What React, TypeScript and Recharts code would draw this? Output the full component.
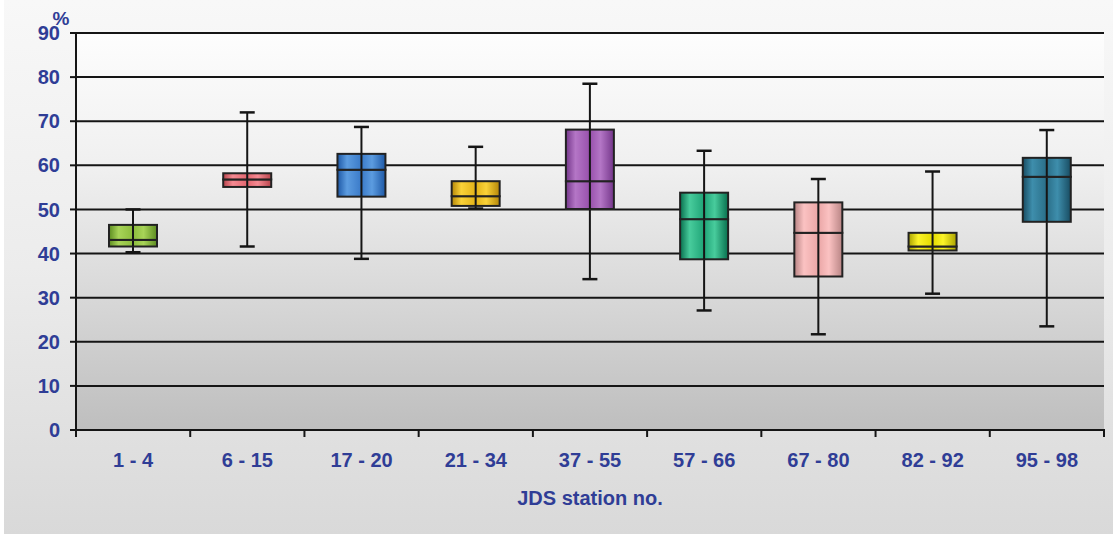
import React from 'react';
import { ComposedChart, Bar, XAxis, YAxis, CartesianGrid } from 'recharts';

const categories = ['1 - 4', '6 - 15', '17 - 20', '21 - 34', '37 - 55', '57 - 66', '67 - 80', '82 - 92', '95 - 98'];
const whiskerLow = [40.3, 41.6, 38.8, 50.2, 34.2, 27.1, 21.7, 30.9, 23.5];
const q1 = [41.6, 55.1, 52.9, 50.8, 50.1, 38.7, 34.8, 40.7, 47.2];
const median = [43.1, 56.8, 59.0, 53.0, 56.4, 47.8, 44.7, 41.6, 57.4];
const q3 = [46.5, 58.2, 62.6, 56.4, 68.1, 53.8, 51.6, 44.7, 61.7];
const whiskerHigh = [50.0, 72.0, 68.7, 64.2, 78.5, 63.3, 56.9, 58.6, 68.0];
const yTicks = [0, 10, 20, 30, 40, 50, 60, 70, 80, 90];

const boxDark = ['#5c8c20', '#b8444c', '#1d58a6', '#b48608', '#74368a', '#08704e', '#b88484', '#aaa200', '#184c62'];
const boxMid = ['#8cbc3c', '#e2666f', '#3a7ac8', '#e2b218', '#9850ac', '#1fa477', '#eaa6a6', '#e2da00', '#2a6e88'];
const boxLight = ['#a8d458', '#f58a92', '#5c9ce0', '#fad238', '#b476c6', '#48cc9c', '#fbc2c2', '#fcf428', '#3e8eac'];

const data = categories.map((name, i) => ({
  name,
  idx: i,
  base: whiskerLow[i],
  lowW: q1[i] - whiskerLow[i],
  boxLo: median[i] - q1[i],
  boxHi: q3[i] - median[i],
  highW: whiskerHigh[i] - q3[i],
}));

const INK = '#151515';
const BLUE = '#2f3d96';
const FONT = '"Liberation Sans", Arial, Helvetica, sans-serif';
const CAP = 15;
const X_TICK_SIZE = 7;
const X_TICK_MARGIN = 16;

const LowWhisker = (p: any) => {
  const cx = p.x + p.width / 2;
  const yb = p.y + p.height;
  return (
    <g>
      <line x1={cx} x2={cx} y1={p.y} y2={yb} stroke={INK} strokeWidth={2} />
      <line x1={cx - CAP / 2} x2={cx + CAP / 2} y1={yb} y2={yb} stroke={INK} strokeWidth={2.5} />
    </g>
  );
};

const HighWhisker = (p: any) => {
  const cx = p.x + p.width / 2;
  return (
    <g>
      <line x1={cx} x2={cx} y1={p.y} y2={p.y + p.height} stroke={INK} strokeWidth={2} />
      <line x1={cx - CAP / 2} x2={cx + CAP / 2} y1={p.y} y2={p.y} stroke={INK} strokeWidth={2.5} />
    </g>
  );
};

const BoxPart = (p: any) => {
  const i = p.payload ? p.payload.idx : p.index;
  const cx = p.x + p.width / 2;
  return (
    <g>
      <rect x={p.x} y={p.y} width={p.width} height={p.height} fill={`url(#boxGrad${i})`} stroke="#222" strokeWidth={2} />
      <line x1={cx} x2={cx} y1={p.y} y2={p.y + p.height} stroke={INK} strokeWidth={2} />
    </g>
  );
};

const XTick = (p: any) => {
  const half = p.payload && p.payload.offset ? p.payload.offset : p.width / p.visibleTicksCount / 2;
  const axisY = p.y - X_TICK_SIZE - X_TICK_MARGIN;
  const isLast = p.index === (p.visibleTicksCount ?? categories.length) - 1;
  return (
    <g>
      <line x1={p.x - half} x2={p.x - half} y1={axisY - 1} y2={axisY + X_TICK_SIZE} stroke={INK} strokeWidth={2} />
      {isLast && (
        <line x1={p.x + half} x2={p.x + half} y1={axisY - 1} y2={axisY + X_TICK_SIZE} stroke={INK} strokeWidth={2} />
      )}
      <text x={p.x} y={p.y} dy="0.71em" textAnchor="middle" fill={BLUE} fontSize={20} fontWeight={700} fontFamily={FONT}>
        {p.payload.value}
      </text>
    </g>
  );
};

const PercentLabel = (p: any) => {
  const vb = p.viewBox || {};
  return (
    <text x={vb.x + vb.width - 15} y={vb.y - 8} textAnchor="middle" fill={BLUE} fontSize={19} fontWeight={700} fontFamily={FONT}>
      %
    </text>
  );
};

const TitleLabel = (p: any) => {
  const vb = p.viewBox || {};
  return (
    <text x={vb.x + vb.width / 2} y={vb.y + vb.height - 29} textAnchor="middle" fill={BLUE} fontSize={20} fontWeight={700} fontFamily={FONT}>
      JDS station no.
    </text>
  );
};

export default function App() {
  return (
    <div
      style={{
        position: 'absolute',
        left: 0,
        top: 0,
        width: 1113,
        height: 534,
        background: 'linear-gradient(to right, #ffffff 0px, #ffffff 4px, transparent 4px), linear-gradient(to bottom, #f8f8f8 0%, #ececec 50%, #d9d9d9 100%)',
      }}
    >
      <svg width={0} height={0} style={{ position: 'absolute' }}>
        <defs>
          <linearGradient id="plotBg" x1="0" y1="0" x2="0" y2="1">
            <stop offset="0%" stopColor="#fdfdfd" />
            <stop offset="35%" stopColor="#efefef" />
            <stop offset="65%" stopColor="#d9d9d9" />
            <stop offset="100%" stopColor="#bebebe" />
          </linearGradient>
          {categories.map((c, i) => (
            <linearGradient key={c} id={`boxGrad${i}`} x1="0" y1="0" x2="1" y2="0">
              <stop offset="0%" stopColor={boxDark[i]} />
              <stop offset="20%" stopColor={boxLight[i]} />
              <stop offset="50%" stopColor={boxMid[i]} />
              <stop offset="72%" stopColor={boxLight[i]} />
              <stop offset="100%" stopColor={boxDark[i]} />
            </linearGradient>
          ))}
        </defs>
      </svg>
      <ComposedChart
        width={1113}
        height={534}
        data={data}
        margin={{ top: 33, right: 9, bottom: 0, left: 0 }}
        barCategoryGap={0}
      >
        <CartesianGrid vertical={false} stroke={INK} strokeWidth={2} fill="url(#plotBg)" fillOpacity={1} />
        <XAxis
          dataKey="name"
          height={104}
          tickLine={false}
          tickSize={X_TICK_SIZE}
          tickMargin={X_TICK_MARGIN}
          axisLine={{ stroke: INK, strokeWidth: 2 }}
          tick={<XTick />}
          interval={0}
          label={<TitleLabel />}
        />
        <YAxis
          width={76}
          domain={[0, 90]}
          ticks={yTicks}
          interval={0}
          tickSize={6}
          tickMargin={10}
          tickLine={{ stroke: INK, strokeWidth: 2 }}
          axisLine={{ stroke: INK, strokeWidth: 2 }}
          tick={{ fill: BLUE, fontSize: 20, fontWeight: 700, fontFamily: FONT }}
          label={<PercentLabel />}
        />
        <Bar dataKey="base" stackId="a" fill="transparent" barSize={48} isAnimationActive={false} />
        <Bar dataKey="lowW" stackId="a" barSize={48} shape={<LowWhisker />} isAnimationActive={false} />
        <Bar dataKey="boxLo" stackId="a" barSize={48} shape={<BoxPart />} isAnimationActive={false} />
        <Bar dataKey="boxHi" stackId="a" barSize={48} shape={<BoxPart />} isAnimationActive={false} />
        <Bar dataKey="highW" stackId="a" barSize={48} shape={<HighWhisker />} isAnimationActive={false} />
      </ComposedChart>
    </div>
  );
}
